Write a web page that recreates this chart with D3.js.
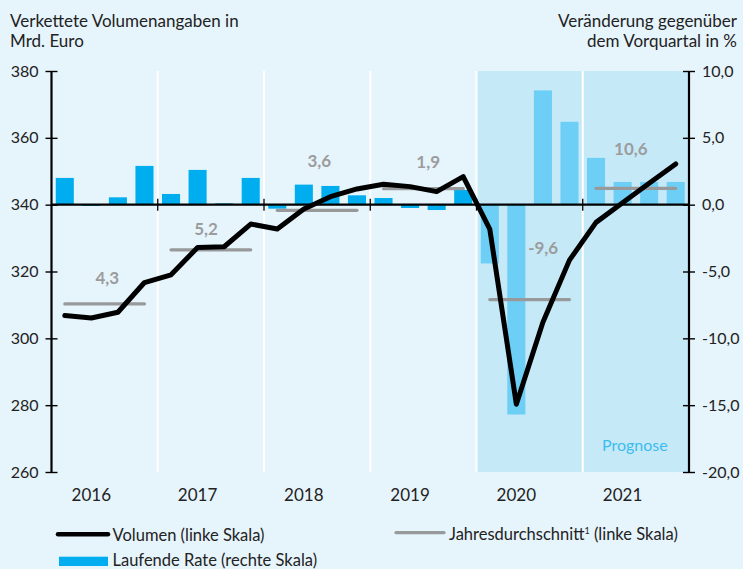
<!DOCTYPE html>
<html>
<head>
<meta charset="utf-8">
<script src="https://cdn.jsdelivr.net/npm/d3@7"></script>
<style>
  html, body { margin: 0; padding: 0; background: #e6f4fc; }
  svg { display: block; }
  text { font-family: Lato, "Noto Sans", sans-serif; }
</style>
</head>
<body>
<svg id="chart" width="743" height="569"></svg>
<script>
// ---------- data ----------
const years = ["2016", "2017", "2018", "2019", "2020", "2021"];
const quarters = years.flatMap(y => ["Q1", "Q2", "Q3", "Q4"].map(q => y + q));
// Volumen (linke Skala), Mrd. Euro
const volumen = [306.8, 306.1, 307.8, 316.7, 319.0, 327.2, 327.4, 334.2,
                 332.7, 338.7, 342.4, 344.7, 346.1, 345.4, 343.9, 348.4,
                 332.7, 280.3, 304.8, 323.4, 334.7, 340.6, 346.4, 352.2];
// Laufende Rate (rechte Skala), %
const rate = [2.0, -0.1, 0.55, 2.9, 0.8, 2.6, 0.1, 2.0,
              -0.3, 1.5, 1.4, 0.7, 0.5, -0.25, -0.4, 1.1,
              -4.4, -15.7, 8.55, 6.2, 3.5, 1.7, 1.7, 1.7];
// Jahresdurchschnitt (linke Skala)
const annualAvg = [310.3, 326.5, 338.3, 344.8, 311.6, 344.9];
const annualLabels = ["4,3", "5,2", "3,6", "1,9", "-9,6", "10,6"];
// label anchors: [quarter index, left-scale value]
const annualLabelPos = [[2.10, 318.1], [5.82, 332.8], [10.08, 353.2], [14.18, 352.9], [18.51, 327.1], [21.81, 356.8]];
const forecastYears = ["2020", "2021"];
const leftTicks = [260, 280, 300, 320, 340, 360, 380];
const rightTicks = [-20, -15, -10, -5, 0, 5, 10];
const fmtRight = d => d3.format(".1f")(d).replace(".", ",").replace("\u2212", "-");

// ---------- layout ----------
const svg = d3.select("#chart");
const L = 51.5, R = 689, T = 71, B = 472;

const xBand = d3.scaleBand().domain(quarters).range([L, R]).paddingInner(0.32).paddingOuter(0.16);
const xIdx = d3.scaleLinear().domain([0, quarters.length]).range([L, R]);
const yL = d3.scaleLinear().domain([260, 380]).range([B, T]);
const yR = d3.scaleLinear().domain([-20, 10]).range([B, T]);
const qc = q => xBand(q) + xBand.bandwidth() / 2;
const yearStart = y => xIdx(quarters.indexOf(y + "Q1"));
const yearEnd = y => xIdx(quarters.indexOf(y + "Q4") + 1);

// forecast shading
forecastYears.forEach(y => {
  svg.append("rect")
    .attr("x", yearStart(y)).attr("y", T)
    .attr("width", yearEnd(y) - yearStart(y)).attr("height", B - T)
    .attr("fill", "#c6e9f8");
});

// white year separators
years.slice(1).forEach(y => {
  svg.append("line")
    .attr("x1", yearStart(y)).attr("x2", yearStart(y))
    .attr("y1", T).attr("y2", B)
    .attr("stroke", "#ffffff").attr("stroke-width", 2);
});

// bars
svg.append("g").selectAll("rect").data(quarters).join("rect")
  .attr("x", d => xBand(d))
  .attr("width", xBand.bandwidth())
  .attr("y", (d, i) => yR(Math.max(0, rate[i])))
  .attr("height", (d, i) => Math.abs(yR(rate[i]) - yR(0)))
  .attr("fill", d => forecastYears.includes(d.slice(0, 4)) ? "#6dcff6" : "#00aeef");

// annual average lines
svg.append("g").selectAll("line").data(years).join("line")
  .attr("x1", y => qc(y + "Q1")).attr("x2", y => qc(y + "Q4"))
  .attr("y1", (y, i) => yL(annualAvg[i])).attr("y2", (y, i) => yL(annualAvg[i]))
  .attr("stroke", "#98999b").attr("stroke-width", 3.2).attr("stroke-linecap", "round");

// zero line (x-axis)
svg.append("line").attr("x1", L).attr("x2", R).attr("y1", yR(0)).attr("y2", yR(0))
  .attr("stroke", "#000").attr("stroke-width", 2.2);
years.slice(1).forEach(y => {
  svg.append("line").attr("x1", yearStart(y)).attr("x2", yearStart(y))
    .attr("y1", yR(0) - 6).attr("y2", yR(0) + 6)
    .attr("stroke", "#000").attr("stroke-width", 1.3);
});

// volumen line
svg.append("path").datum(volumen)
  .attr("d", d3.line().x((d, i) => qc(quarters[i])).y(d => yL(d)))
  .attr("fill", "none").attr("stroke", "#000").attr("stroke-width", 5)
  .attr("stroke-linejoin", "round").attr("stroke-linecap", "round");

// annual labels
svg.append("g").selectAll("text").data(annualLabels).join("text")
  .attr("x", (d, i) => xIdx(annualLabelPos[i][0]))
  .attr("y", (d, i) => yL(annualLabelPos[i][1]))
  .attr("dy", "0.36em").attr("text-anchor", "middle")
  .attr("font-size", 17).attr("font-weight", 700).attr("fill", "#9c9c9c")
  .text(d => d);

// axes
const axL = svg.append("g").attr("transform", `translate(${L},0)`)
  .call(d3.axisLeft(yL).tickValues(leftTicks).tickSize(6).tickPadding(7));
const axR = svg.append("g").attr("transform", `translate(${R},0)`)
  .call(d3.axisRight(yR).tickValues(rightTicks).tickSize(6).tickPadding(7).tickFormat(fmtRight));
[axL, axR].forEach(ax => {
  ax.select(".domain").attr("stroke", "#000").attr("stroke-width", 2.2)
    .attr("d", `M0,${T}V${B}`);
  ax.selectAll(".tick line").attr("stroke", "#000").attr("stroke-width", 1.4)
    .attr("x1", -6).attr("x2", 6);
  ax.selectAll(".tick text").attr("font-size", 16).attr("fill", "#222")
    .attr("font-family", "Lato, sans-serif");
});

// year labels (centred on Q2)
svg.append("g").selectAll("text").data(years).join("text")
  .attr("x", y => qc(y + "Q2")).attr("y", 501)
  .attr("text-anchor", "middle").attr("font-size", 17).attr("fill", "#222")
  .text(y => y);

// Prognose
svg.append("text").attr("x", (yearStart("2021") + yearEnd("2021")) / 2 - 1).attr("y", 451)
  .attr("text-anchor", "middle").attr("font-size", 16).attr("fill", "#3cbdee").text("Prognose");

// titles
const tl = svg.append("text").attr("font-size", 17).attr("fill", "#222");
tl.append("tspan").attr("x", 10).attr("y", 27).text("Verkettete Volumenangaben in");
tl.append("tspan").attr("x", 10).attr("y", 46.5).text("Mrd. Euro");
const tr = svg.append("text").attr("font-size", 17).attr("fill", "#222").attr("text-anchor", "end");
tr.append("tspan").attr("x", 737).attr("y", 27).text("Veränderung gegenüber");
tr.append("tspan").attr("x", 737).attr("y", 46.5).text("dem Vorquartal in %");

// legend
const lg = svg.append("g").attr("font-size", 16.5).attr("fill", "#222");
lg.append("line").attr("x1", 58).attr("x2", 108).attr("y1", 534.3).attr("y2", 534.3)
  .attr("stroke", "#000").attr("stroke-width", 4.5).attr("stroke-linecap", "round");
lg.append("text").attr("x", 112.5).attr("y", 540.5).text("Volumen (linke Skala)");
lg.append("line").attr("x1", 396).attr("x2", 444).attr("y1", 532.7).attr("y2", 532.7)
  .attr("stroke", "#98999b").attr("stroke-width", 3.2).attr("stroke-linecap", "round");
const jt = lg.append("text").attr("x", 449).attr("y", 539.5);
jt.append("tspan").text("Jahresdurchschnitt");
jt.append("tspan").attr("font-size", 9).attr("dy", -5.5).text("1");
jt.append("tspan").attr("dy", 5.5).text(" (linke Skala)");
lg.append("rect").attr("x", 59).attr("y", 556.7).attr("width", 49).attr("height", 9.3).attr("fill", "#00aeef");
lg.append("text").attr("x", 112.5).attr("y", 566).text("Laufende Rate (rechte Skala)");
</script>
</body>
</html>
